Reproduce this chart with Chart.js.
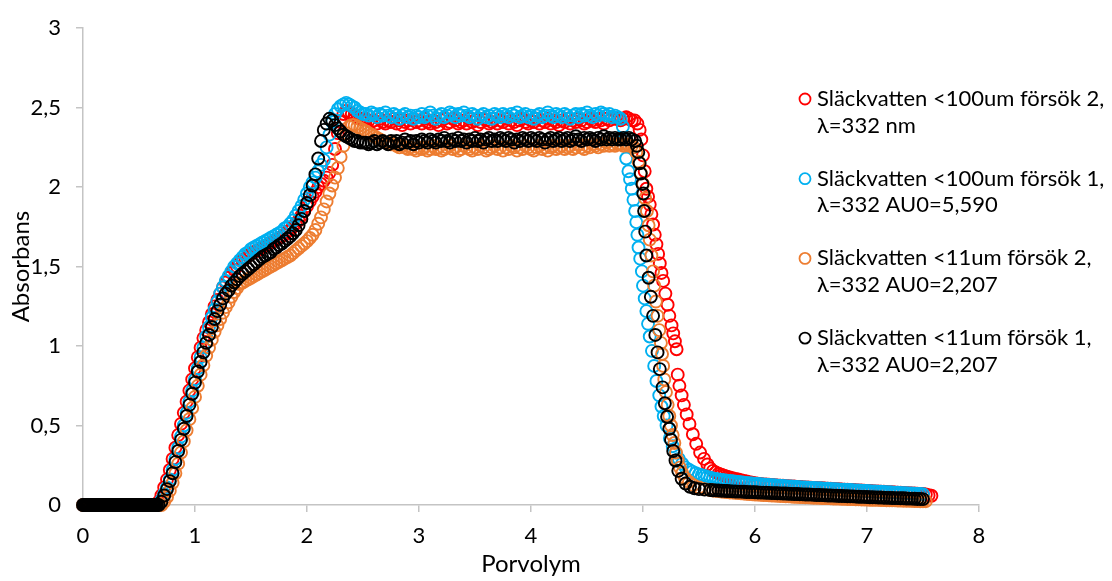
<!DOCTYPE html>
<html>
<head>
<meta charset="utf-8">
<script src="https://cdn.jsdelivr.net/npm/chart.js@4.4.1/dist/chart.umd.min.js"></script>
<style>
  html, body { margin: 0; padding: 0; background: #fff; }
  #chart { display: block; }
</style>
</head>
<body>
<canvas id="chart" width="1112" height="581"></canvas>
<script>
// Absorbans vs porvolym for four runs, sampled in stretches:
// flat start, rise, plateau, per-run fall, slow tail.
const seriesNames = [
    ["Släckvatten <100um försök 2,", "λ=332 nm"],
    ["Släckvatten <100um försök 1,", "λ=332 AU0=5,590"],
    ["Släckvatten <11um försök 2,", "λ=332 AU0=2,207"],
    ["Släckvatten <11um försök 1,", "λ=332 AU0=2,207"]
];
const seriesColors = ["#FF0000", "#00B0F0", "#ED7D31", "#000000"];
const xTicks = [0, 1, 2, 3, 4, 5, 6, 7, 8];
const yTicks = [0, 0.5, 1, 1.5, 2, 2.5, 3];

// flat start (same for all runs), densely sampled
const baseX = [
    0,0.01,0.02,0.03,0.04,0.05,0.06,0.07,0.08,0.09,
    0.1,0.11,0.12,0.13,0.14,0.15,0.16,0.17,0.18,0.19,
    0.2,0.21,0.22,0.23,0.24,0.25,0.26,0.27,0.28,0.29,
    0.3,0.31,0.32,0.33,0.34,0.35,0.36,0.37,0.38,0.39,
    0.4,0.41,0.42,0.43,0.44,0.45,0.46,0.47,0.48,0.49,
    0.5,0.51,0.52,0.53,0.54,0.55,0.56,0.57,0.58,0.59,
    0.6,0.61,0.62,0.63,0.64,0.65,0.66
];
const baseY = [
    0,0,0,0,0,0,0,0,0,0,
    0,0,0,0,0,0,0,0,0,0,
    0,0,0,0,0,0,0,0,0,0,
    0,0,0,0,0,0,0,0,0,0,
    0,0,0,0,0,0,0,0,0,0,
    0,0,0,0,0,0,0,0,0,0,
    0,0,0,0,0,0,0
];

// rise
const riseX = [
    0.675,0.7,0.725,0.75,0.775,0.8,0.825,0.85,0.875,0.9,
    0.925,0.95,0.975,1,1.025,1.05,1.075,1.1,1.125,1.15,
    1.175,1.2,1.225,1.25,1.275,1.3,1.325,1.35,1.375,1.4,
    1.425,1.45,1.475,1.5,1.525,1.55,1.575,1.6,1.625,1.65,
    1.675,1.7,1.725,1.75,1.775,1.8,1.825,1.85,1.875,1.9,
    1.925,1.95,1.975,2,2.025,2.05,2.075,2.1,2.125,2.15,
    2.175,2.2,2.225,2.25,2.275,2.3,2.325,2.35,2.375,2.4,
    2.425,2.45,2.475,2.5
];
const redRise = [
    0.02,0.06,0.11,0.16,0.22,0.29,0.36,0.44,0.51,0.58,
    0.65,0.72,0.79,0.86,0.93,0.99,1.05,1.1,1.15,1.2,
    1.25,1.29,1.33,1.37,1.4,1.43,1.46,1.48,1.5,1.52,
    1.54,1.55,1.57,1.58,1.59,1.6,1.61,1.62,1.63,1.64,
    1.65,1.66,1.67,1.68,1.69,1.7,1.72,1.73,1.75,1.77,
    1.79,1.82,1.85,1.88,1.91,1.94,1.97,2,2.02,2.04,
    2.06,2.09,2.14,2.24,2.34,2.41,2.46,2.48,2.47,2.46,
    2.45,2.44,2.43,2.43
];
const blueRise = [
    0,0.03,0.07,0.11,0.16,0.22,0.29,0.36,0.43,0.5,
    0.58,0.65,0.72,0.79,0.86,0.93,0.99,1.06,1.12,1.18,
    1.23,1.28,1.33,1.37,1.41,1.44,1.47,1.5,1.52,1.54,
    1.56,1.58,1.59,1.61,1.62,1.63,1.64,1.65,1.66,1.67,
    1.68,1.69,1.7,1.71,1.72,1.74,1.75,1.77,1.79,1.82,
    1.85,1.88,1.92,1.96,2,2.03,2.06,2.1,2.14,2.17,
    2.25,2.33,2.41,2.46,2.49,2.51,2.52,2.53,2.52,2.51,
    2.5,2.48,2.47,2.46
];
const orangeRise = [
    0,0,0.02,0.05,0.09,0.14,0.2,0.26,0.33,0.4,
    0.47,0.54,0.61,0.68,0.75,0.82,0.88,0.94,0.99,1.04,
    1.09,1.13,1.17,1.21,1.245,1.275,1.31,1.34,1.365,1.39,
    1.4,1.41,1.42,1.43,1.44,1.45,1.46,1.47,1.48,1.49,
    1.5,1.51,1.52,1.53,1.54,1.55,1.56,1.57,1.585,1.6,
    1.615,1.63,1.645,1.66,1.68,1.7,1.73,1.77,1.81,1.86,
    1.91,1.96,2.01,2.06,2.12,2.19,2.26,2.34,2.38,2.39,
    2.39,2.38,2.37,2.36
];
const blackRise = [
    0,0.02,0.06,0.1,0.15,0.2,0.27,0.34,0.41,0.48,
    0.56,0.63,0.7,0.77,0.84,0.9,0.96,1.02,1.07,1.12,
    1.17,1.22,1.26,1.3,1.33,1.35,1.38,1.4,1.42,1.44,
    1.455,1.47,1.485,1.5,1.515,1.53,1.545,1.56,1.57,1.58,
    1.59,1.61,1.62,1.635,1.645,1.66,1.675,1.69,1.71,1.73,
    1.76,1.8,1.85,1.9,1.95,2.01,2.08,2.18,2.29,2.36,
    2.4,2.43,2.42,2.39,2.37,2.35,2.33,2.32,2.31,2.3,
    2.29,2.29,2.28,2.28
];

// plateau
const plateauX = [
    2.525,2.55,2.575,2.6,2.625,2.65,2.675,2.7,2.725,2.75,
    2.775,2.8,2.825,2.85,2.875,2.9,2.925,2.95,2.975,3,
    3.025,3.05,3.075,3.1,3.125,3.15,3.175,3.2,3.225,3.25,
    3.275,3.3,3.325,3.35,3.375,3.4,3.425,3.45,3.475,3.5,
    3.525,3.55,3.575,3.6,3.625,3.65,3.675,3.7,3.725,3.75,
    3.775,3.8,3.825,3.85,3.875,3.9,3.925,3.95,3.975,4,
    4.025,4.05,4.075,4.1,4.125,4.15,4.175,4.2,4.225,4.25,
    4.275,4.3,4.325,4.35,4.375,4.4,4.425,4.45,4.475,4.5,
    4.525,4.55,4.575,4.6,4.625,4.65,4.675,4.7,4.725,4.75,
    4.775
];
const redPlateau = [
    2.43,2.42,2.41,2.42,2.4,2.43,2.41,2.4,2.42,2.41,
    2.43,2.4,2.42,2.39,2.41,2.42,2.4,2.43,2.41,2.42,
    2.4,2.43,2.41,2.4,2.42,2.41,2.39,2.42,2.43,2.4,
    2.41,2.43,2.42,2.4,2.41,2.42,2.4,2.43,2.41,2.42,
    2.39,2.41,2.43,2.42,2.4,2.41,2.43,2.4,2.42,2.41,
    2.43,2.4,2.42,2.41,2.39,2.42,2.43,2.41,2.4,2.42,
    2.41,2.43,2.4,2.42,2.41,2.43,2.4,2.42,2.41,2.39,
    2.42,2.41,2.43,2.4,2.42,2.41,2.43,2.42,2.4,2.41,
    2.43,2.42,2.41,2.43,2.42,2.4,2.43,2.42,2.44,2.43,
    2.43
];
const bluePlateau = [
    2.46,2.45,2.47,2.46,2.44,2.46,2.45,2.47,2.45,2.44,
    2.46,2.45,2.43,2.45,2.46,2.44,2.45,2.43,2.45,2.44,
    2.46,2.44,2.45,2.47,2.45,2.43,2.45,2.46,2.44,2.45,
    2.47,2.46,2.44,2.46,2.45,2.47,2.45,2.44,2.46,2.45,
    2.43,2.45,2.46,2.44,2.45,2.43,2.46,2.45,2.44,2.46,
    2.45,2.44,2.46,2.45,2.47,2.44,2.45,2.46,2.44,2.45,
    2.43,2.45,2.46,2.44,2.45,2.47,2.45,2.44,2.46,2.45,
    2.44,2.46,2.45,2.43,2.45,2.46,2.44,2.46,2.45,2.47,
    2.45,2.44,2.46,2.45,2.47,2.46,2.45,2.46,2.44,2.45,
    2.44
];
const orangePlateau = [
    2.35,2.34,2.33,2.32,2.31,2.3,2.29,2.28,2.28,2.27,
    2.27,2.26,2.25,2.26,2.25,2.24,2.25,2.24,2.23,2.25,
    2.24,2.25,2.23,2.24,2.26,2.24,2.25,2.23,2.24,2.25,
    2.26,2.24,2.25,2.23,2.24,2.26,2.25,2.24,2.23,2.25,
    2.24,2.26,2.25,2.23,2.24,2.25,2.26,2.24,2.25,2.23,
    2.25,2.24,2.26,2.25,2.23,2.25,2.24,2.26,2.25,2.24,
    2.23,2.25,2.26,2.24,2.25,2.23,2.25,2.26,2.24,2.25,
    2.26,2.24,2.25,2.26,2.24,2.25,2.27,2.25,2.24,2.26,
    2.25,2.27,2.26,2.25,2.27,2.26,2.28,2.26,2.27,2.26,
    2.27
];
const blackPlateau = [
    2.28,2.27,2.28,2.29,2.27,2.28,2.29,2.28,2.27,2.29,
    2.28,2.29,2.27,2.28,2.3,2.28,2.29,2.27,2.29,2.28,
    2.3,2.29,2.28,2.3,2.29,2.28,2.3,2.29,2.31,2.29,
    2.28,2.3,2.29,2.31,2.29,2.3,2.28,2.3,2.29,2.31,
    2.29,2.3,2.28,2.3,2.31,2.29,2.3,2.29,2.31,2.3,
    2.29,2.31,2.3,2.28,2.3,2.29,2.31,2.3,2.29,2.31,
    2.3,2.29,2.31,2.3,2.28,2.3,2.31,2.29,2.3,2.31,
    2.29,2.3,2.31,2.29,2.3,2.32,2.3,2.29,2.31,2.3,
    2.31,2.3,2.29,2.31,2.3,2.32,2.3,2.31,2.3,2.31,
    2.3
];

// fall, [porvolym, absorbans] per run
const redFall = [
    [4.8,2.42],[4.825,2.43],[4.85,2.44],[4.875,2.43],[4.9,2.42],[4.925,2.42],[4.95,2.4],[4.97,2.36],[4.985,2.3],[5,2.2],
    [5.015,2.1],[5.03,1.99],[5.045,1.94],[5.06,1.89],[5.075,1.83],[5.09,1.765],[5.105,1.7],[5.12,1.64],[5.135,1.58],[5.15,1.52],
    [5.165,1.46],[5.18,1.41],[5.2,1.33],[5.22,1.26],[5.235,1.19],[5.255,1.13],[5.27,1.08],[5.285,1.03],[5.3,0.98],[5.31,0.82],
    [5.325,0.75],[5.345,0.69],[5.365,0.63],[5.39,0.57],[5.415,0.51],[5.445,0.445],[5.475,0.385],[5.51,0.33],[5.545,0.29],[5.575,0.255],
    [5.6,0.23]
];
const blueFall = [
    [4.8,2.43],[4.82,2.38],[4.835,2.3],[4.85,2.18],[4.87,2.1],[4.884,2.05],[4.9,1.99],[4.915,1.92],[4.93,1.85],[4.94,1.78],
    [4.95,1.7],[4.96,1.62],[4.975,1.55],[4.99,1.47],[5,1.38],[5.015,1.3],[5.03,1.22],[5.045,1.14],[5.06,1.06],[5.08,0.97],
    [5.1,0.875],[5.12,0.78],[5.145,0.69],[5.165,0.62],[5.185,0.56],[5.21,0.5],[5.24,0.42],[5.265,0.37],[5.29,0.33],[5.32,0.29],
    [5.35,0.26],[5.38,0.235],[5.41,0.222],[5.44,0.21],[5.47,0.2],[5.5,0.193],[5.525,0.187],[5.55,0.182],[5.575,0.177],[5.6,0.172]
];
const orangeFall = [
    [4.8,2.27],[4.825,2.26],[4.85,2.27],[4.875,2.26],[4.9,2.26],[4.92,2.25],[4.94,2.22],[4.96,2.16],[4.98,2.09],[5,2.02],
    [5.02,1.93],[5.035,1.85],[5.05,1.76],[5.06,1.67],[5.075,1.57],[5.09,1.47],[5.1,1.38],[5.115,1.28],[5.13,1.19],[5.145,1.1],
    [5.16,1.02],[5.17,0.95],[5.18,0.875],[5.19,0.79],[5.205,0.71],[5.22,0.63],[5.235,0.56],[5.25,0.5],[5.265,0.44],[5.28,0.39],
    [5.295,0.33],[5.31,0.28],[5.33,0.235],[5.35,0.2],[5.375,0.17],[5.41,0.145],[5.45,0.125],[5.5,0.11],[5.55,0.1],[5.6,0.094]
];
const blackFall = [
    [4.8,2.3],[4.825,2.31],[4.85,2.3],[4.875,2.31],[4.9,2.3],[4.93,2.29],[4.945,2.26],[4.958,2.22],[4.97,2.15],[4.98,2.085],
    [4.995,2.02],[5.003,1.96],[5.01,1.85],[5.02,1.72],[5.03,1.57],[5.05,1.43],[5.07,1.31],[5.09,1.19],[5.11,1.07],[5.13,0.96],
    [5.15,0.855],[5.175,0.74],[5.195,0.64],[5.215,0.555],[5.235,0.48],[5.25,0.41],[5.27,0.34],[5.29,0.28],[5.315,0.215],[5.345,0.165],
    [5.38,0.135],[5.42,0.115],[5.46,0.105],[5.5,0.1],[5.55,0.097],[5.6,0.094]
];

// slow tail
const tailX = [
    5.625,5.65,5.675,5.7,5.725,5.75,5.775,5.8,5.825,5.85,
    5.875,5.9,5.925,5.95,5.975,6,6.025,6.05,6.075,6.1,
    6.125,6.15,6.175,6.2,6.225,6.25,6.275,6.3,6.325,6.35,
    6.375,6.4,6.425,6.45,6.475,6.5,6.525,6.55,6.575,6.6,
    6.625,6.65,6.675,6.7,6.725,6.75,6.775,6.8,6.825,6.85,
    6.875,6.9,6.925,6.95,6.975,7,7.025,7.05,7.075,7.1,
    7.125,7.15,7.175,7.2,7.225,7.25,7.275,7.3,7.325,7.35,
    7.375,7.4,7.425,7.45,7.475,7.5
];
const redTail = [
    0.215,0.205,0.197,0.19,0.184,0.178,0.173,0.168,0.164,0.16,
    0.156,0.152,0.148,0.144,0.14,0.137,0.134,0.132,0.13,0.129,
    0.127,0.126,0.125,0.123,0.122,0.121,0.119,0.118,0.117,0.116,
    0.114,0.113,0.112,0.111,0.11,0.109,0.108,0.107,0.106,0.105,
    0.104,0.103,0.102,0.101,0.1,0.099,0.098,0.097,0.096,0.095,
    0.094,0.093,0.092,0.091,0.09,0.089,0.088,0.087,0.086,0.085,
    0.084,0.083,0.082,0.081,0.08,0.079,0.078,0.077,0.076,0.075,
    0.074,0.073,0.072,0.071,0.07,0.069
];
const blueTail = [
    0.167,0.164,0.161,0.158,0.156,0.153,0.151,0.149,0.147,0.145,
    0.143,0.141,0.139,0.137,0.136,0.134,0.132,0.131,0.129,0.128,
    0.126,0.125,0.124,0.122,0.121,0.12,0.118,0.117,0.116,0.115,
    0.113,0.112,0.111,0.11,0.109,0.108,0.107,0.106,0.105,0.104,
    0.103,0.102,0.101,0.1,0.099,0.098,0.097,0.096,0.095,0.094,
    0.093,0.092,0.091,0.09,0.089,0.088,0.087,0.086,0.085,0.084,
    0.083,0.082,0.081,0.08,0.079,0.078,0.077,0.076,0.075,0.074,
    0.073,0.072,0.071,0.07,0.069,0.068
];
const orangeTail = [
    0.091,0.089,0.087,0.085,0.083,0.081,0.079,0.078,0.076,0.075,
    0.073,0.072,0.07,0.069,0.068,0.066,0.065,0.064,0.063,0.062,
    0.061,0.06,0.059,0.058,0.057,0.056,0.055,0.054,0.053,0.052,
    0.051,0.05,0.05,0.049,0.048,0.047,0.046,0.046,0.045,0.044,
    0.043,0.043,0.042,0.041,0.041,0.04,0.039,0.039,0.038,0.037,
    0.037,0.036,0.036,0.035,0.034,0.034,0.033,0.033,0.032,0.032,
    0.031,0.031,0.03,0.03,0.029,0.029,0.028,0.028,0.027,0.027,
    0.026,0.026,0.025,0.025,0.024,0.024
];
const blackTail = [
    0.093,0.092,0.091,0.09,0.089,0.088,0.087,0.086,0.085,0.084,
    0.084,0.083,0.082,0.081,0.081,0.08,0.079,0.078,0.078,0.077,
    0.076,0.075,0.075,0.074,0.073,0.072,0.072,0.071,0.07,0.069,
    0.069,0.068,0.067,0.066,0.066,0.065,0.064,0.063,0.063,0.062,
    0.061,0.06,0.06,0.059,0.058,0.057,0.057,0.056,0.055,0.054,
    0.054,0.053,0.052,0.051,0.051,0.05,0.049,0.049,0.048,0.047,
    0.047,0.046,0.045,0.045,0.044,0.043,0.043,0.042,0.042,0.041,
    0.04,0.04,0.039,0.038,0.038,0.037
];
const redEnd = [[7.525,0.066],[7.55,0.062],[7.575,0.058]];
const orangeEnd = [[7.525,0.024]];

const zip = (xs, ys) => xs.map((x, i) => [x, ys[i]]);
const runs = [
    [...zip(baseX, baseY), ...zip(riseX, redRise), ...zip(plateauX, redPlateau), ...redFall, ...zip(tailX, redTail), ...redEnd],
    [...zip(baseX, baseY), ...zip(riseX, blueRise), ...zip(plateauX, bluePlateau), ...blueFall, ...zip(tailX, blueTail)],
    [...zip(baseX, baseY), ...zip(riseX, orangeRise), ...zip(plateauX, orangePlateau), ...orangeFall, ...zip(tailX, orangeTail), ...orangeEnd],
    [...zip(baseX, baseY), ...zip(riseX, blackRise), ...zip(plateauX, blackPlateau), ...blackFall, ...zip(tailX, blackTail)]
];

const FONT = "Lato";
const axisColor = "#C4C4C4";

// legend on the right, two text lines per run
const sideLegend = {
    id: 'sideLegend',
    afterDraw(chart) {
        const ctx = chart.ctx;
        ctx.save();
        ctx.font = "22px " + FONT;
        ctx.textBaseline = "alphabetic";
        ctx.textAlign = "left";
        seriesNames.forEach((lines, i) => {
            const cy = 99 + i * 79.7;
            ctx.beginPath();
            ctx.arc(805, cy, 5.5, 0, Math.PI * 2);
            ctx.strokeStyle = seriesColors[i];
            ctx.lineWidth = 1.8;
            ctx.stroke();
            ctx.fillStyle = "#000";
            lines.forEach((t, j) => ctx.fillText(t, 817, cy + 7 + j * 26.7));
        });
        ctx.restore();
    }
};

new Chart(document.getElementById("chart"), {
    type: 'scatter',
    data: {
        datasets: runs.map((pts, i) => ({
            label: seriesNames[i].join(" "),
            data: pts.map(([x, y]) => ({ x: x, y: y })),
            borderColor: seriesColors[i],
            backgroundColor: "rgba(0,0,0,0)",
            pointRadius: 6,
            pointHoverRadius: 6,
            pointBorderWidth: 1.9,
            showLine: false,
            clip: false,
            // black on top, red at the bottom
            order: 4 - i
        }))
    },
    options: {
        responsive: false,
        animation: false,
        layout: { padding: { top: 21, right: 133, left: 0, bottom: 0 } },
        plugins: {
            legend: { display: false },
            tooltip: { enabled: false }
        },
        scales: {
            x: {
                type: 'linear',
                min: xTicks[0],
                max: xTicks[xTicks.length - 1],
                afterBuildTicks: (scale) => { scale.ticks = xTicks.map(v => ({ value: v })); },
                afterFit: (scale) => { scale.height = 76; },
                ticks: { padding: 11, color: "#000", font: { family: FONT, size: 22 } },
                grid: { drawOnChartArea: false, drawTicks: true, tickLength: 7, color: axisColor, lineWidth: 1.5 },
                border: { color: axisColor, width: 1.5 },
                title: { display: true, text: "Porvolym", color: "#000", font: { family: FONT, size: 24 }, padding: { top: 0, bottom: 2 } }
            },
            y: {
                type: 'linear',
                min: yTicks[0],
                max: yTicks[yTicks.length - 1],
                afterBuildTicks: (scale) => { scale.ticks = yTicks.map(v => ({ value: v })); },
                afterFit: (scale) => { scale.width = 83; },
                ticks: {
                    padding: 15, color: "#000", font: { family: FONT, size: 22 },
                    callback: (v) => String(v).replace(".", ",")
                },
                grid: { drawOnChartArea: false, drawTicks: true, tickLength: 7, color: axisColor, lineWidth: 1.5 },
                border: { color: axisColor, width: 1.5 },
                title: { display: true, text: "Absorbans", color: "#000", font: { family: FONT, size: 24 }, padding: { top: 6.5, bottom: 0 } }
            }
        }
    },
    plugins: [sideLegend]
});
</script>
</body>
</html>
